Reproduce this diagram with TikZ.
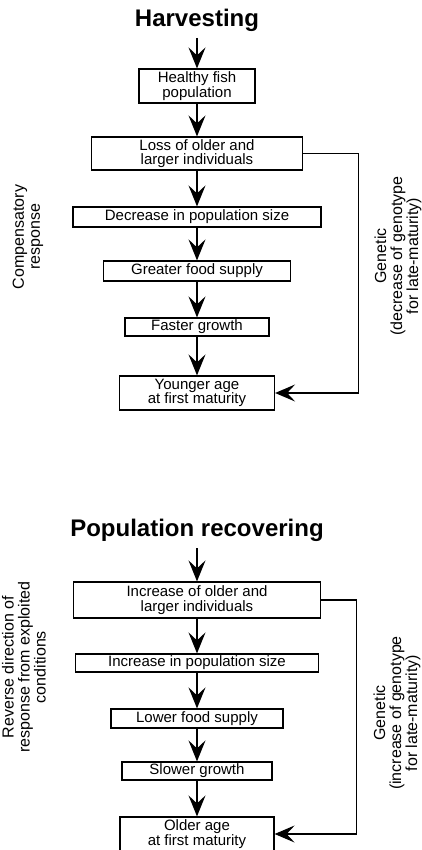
\documentclass[tikz,border=0pt]{standalone}
\usepackage{fontspec}
\setmainfont{Liberation Sans}
\usetikzlibrary{arrows.meta}
\begin{document}
\begin{tikzpicture}[x=1pt,y=-1pt,
  box/.style={draw, line width=1.2pt, inner sep=0pt, align=center,
    font=\fontsize{15}{14.5}\selectfont},
  flow/.style={line width=1.5pt, -{Stealth[length=21pt,width=17pt,inset=8pt]}},
  gen/.style={line width=1.2pt, -{Stealth[length=20pt,width=17pt,inset=8pt]}},
  title/.style={font=\fontsize{24}{28}\selectfont\bfseries},
  side/.style={rotate=90, align=center, font=\fontsize{16}{16}\selectfont},
]
\useasboundingbox (0,0) rectangle (422,850);

% ---- Harvesting ----
\node[title, anchor=base] (t1) at (197,27) {Harvesting};
\coordinate (s1) at (197,38);
\node[box, minimum width=116pt, minimum height=34pt] (b1) at (197,86) {Healthy fish\\population};
\node[box, minimum width=211pt, minimum height=33pt] (b2) at (197,153.5) {Loss of older and\\larger individuals};
\node[box, minimum width=248pt, minimum height=20pt] (b3) at (197,217) {Decrease in population size};
\node[box, minimum width=187pt, minimum height=20pt] (b4) at (197,271) {Greater food supply};
\node[box, minimum width=144pt, minimum height=18pt] (b5) at (197,327) {Faster growth};
\node[box, minimum width=155pt, minimum height=34pt] (b6) at (197,393) {Younger age\\at first maturity};

\draw[flow] (s1) -- (b1.north);
\draw[flow] (b1.south) -- (b2.north);
\draw[flow] (b2.south) -- (b3.north);
\draw[flow] (b3.south) -- (b4.north);
\draw[flow] (b4.south) -- (b5.north);
\draw[flow] (b5.south) -- (b6.north);
\draw[gen] (b2.east) -- ++(55.5,0) |- (b6.east);

\node[side] (l1) at (28,237) {Compensatory\\response};
\node[side] (g1) at (398,256) {Genetic\\(decrease of genotype\\for late-maturity)};

% ---- Population recovering ----
\node[title, anchor=base] (t2) at (197,536) {Population recovering};
\coordinate (s2) at (197,548);
\node[box, minimum width=247pt, minimum height=36pt] (r1) at (197,600) {Increase of older and\\larger individuals};
\node[box, minimum width=243pt, minimum height=18pt] (r2) at (197,663) {Increase in population size};
\node[box, minimum width=172pt, minimum height=19pt] (r3) at (197,718.5) {Lower food supply};
\node[box, minimum width=150pt, minimum height=18pt] (r4) at (197,771) {Slower growth};
\node[box, minimum width=154pt, minimum height=34pt] (r5) at (197,834) {Older age\\at first maturity};

\draw[flow] (s2) -- (r1.north);
\draw[flow] (r1.south) -- (r2.north);
\draw[flow] (r2.south) -- (r3.north);
\draw[flow] (r3.south) -- (r4.north);
\draw[flow] (r4.south) -- (r5.north);
\draw[gen] (r1.east) -- ++(35.5,0) |- (r5.east);

\node[side] (l2) at (24,667) {Reverse direction of\\response from exploited\\conditions};
\node[side] (g2) at (397,713) {Genetic\\(increase of genotype\\for late-maturity)};
\end{tikzpicture}
\end{document}
